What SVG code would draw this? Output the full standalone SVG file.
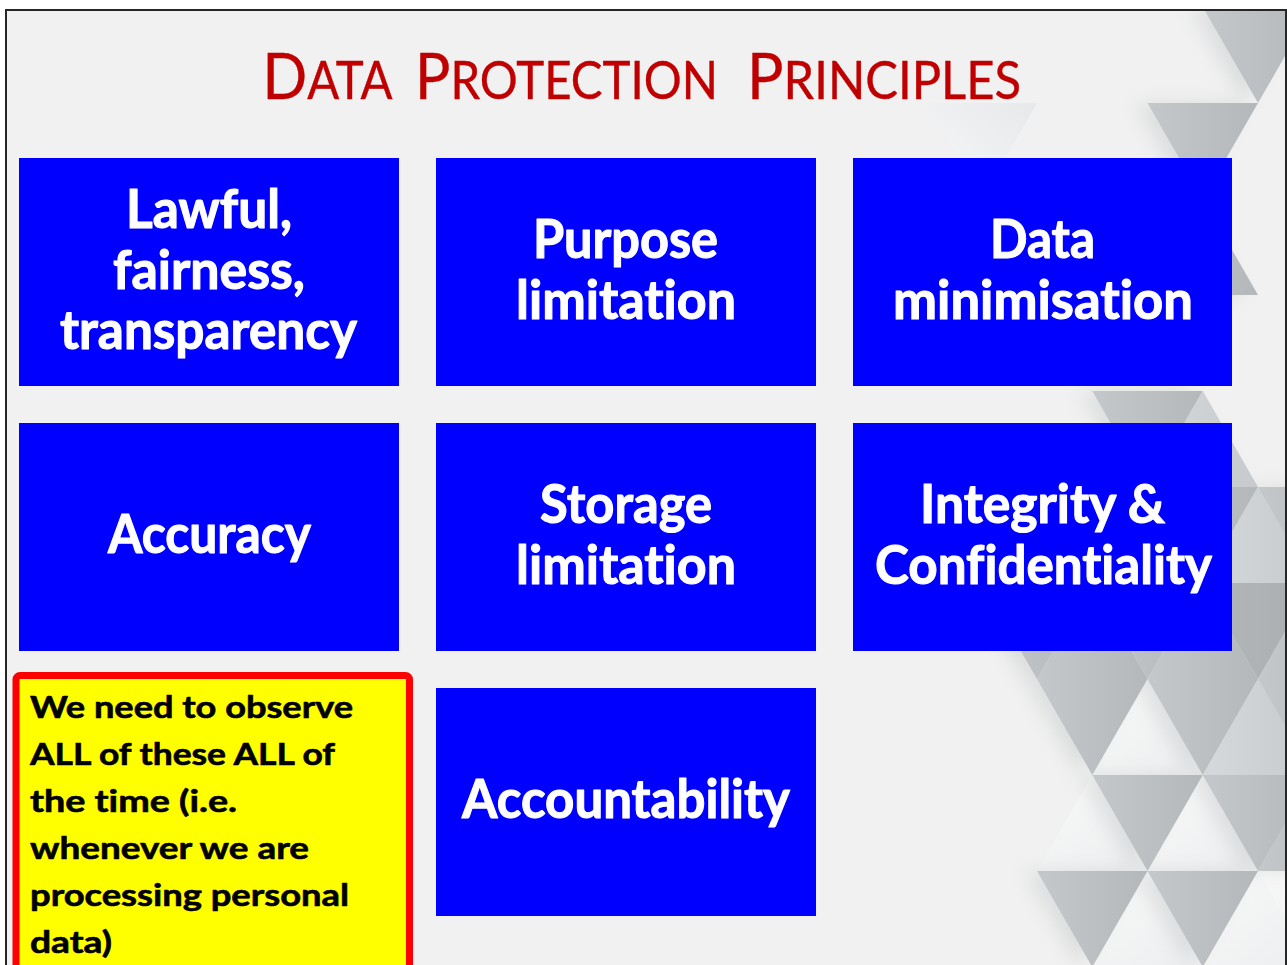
<svg xmlns="http://www.w3.org/2000/svg" xmlns:xlink="http://www.w3.org/1999/xlink" width="1287" height="965" viewBox="0 0 1287 965">
  <style>
    text { font-variant-ligatures: none; font-feature-settings: "liga" 0, "dlig" 0; }
    .frame { fill: #f1f1f1; stroke: #262626; stroke-width: 2; }
    .box { fill: #0000ff; }
    .lbl { font-family: Lato, "Open Sans", "Liberation Sans", sans-serif; font-weight: 700; font-size: 53px; fill: #ffffff; stroke: #ffffff; stroke-width: 1.1; stroke-linejoin: round; text-anchor: middle; }
    .note { font-family: Lato, "Open Sans", "Liberation Sans", sans-serif; font-weight: 700; font-size: 30px; fill: #000000; stroke: #000000; stroke-width: 0.6; stroke-linejoin: round; }
    .title { font-family: Lato, "Open Sans", "Liberation Sans", sans-serif; font-weight: 400; fill: #c00000; stroke: #c00000; stroke-width: 0.4; }
    .big { font-size: 64px; }
    .small { font-size: 51.5px; }
    .g { fill: url(#facetGrey); }
    .gm { fill: url(#facetMid); }
    .gd { fill: url(#facetDark); }
    .lt { fill: url(#facetLight); }
  </style>
  <defs>
    <linearGradient id="facetGrey" x1="0" y1="0" x2="1" y2="0">
      <stop offset="0" stop-color="#c4c8ca"/>
      <stop offset="1" stop-color="#b4b8ba"/>
    </linearGradient>
    <linearGradient id="facetMid" x1="0" y1="0" x2="1" y2="0">
      <stop offset="0" stop-color="#d6d9db"/>
      <stop offset="1" stop-color="#c6cacc"/>
    </linearGradient>
    <linearGradient id="facetDark" x1="0" y1="0" x2="1" y2="0">
      <stop offset="0" stop-color="#b3b7b9"/>
      <stop offset="1" stop-color="#aaaeb0"/>
    </linearGradient>
    <linearGradient id="facetLight" x1="0" y1="0" x2="1" y2="1">
      <stop offset="0" stop-color="#f8f8f8"/>
      <stop offset="1" stop-color="#eceeef"/>
    </linearGradient>
    <linearGradient id="facetPale" x1="1" y1="0" x2="0" y2="1">
      <stop offset="0" stop-color="#e6e8ea"/>
      <stop offset="1" stop-color="#f8f8f8"/>
    </linearGradient>
    <filter id="soft" x="-50%" y="-50%" width="200%" height="200%">
      <feGaussianBlur stdDeviation="9"/>
    </filter>
    <clipPath id="inside">
      <rect x="7" y="11" width="1278" height="954"/>
    </clipPath>
    <!-- grey facets of the background lattice (side 110.5, row height 96) -->
    <g id="greyFacets">
      <polygon class="g" points="1202.75,7 1313.25,7 1258,103"/>
      <polygon class="g" points="1147.5,103 1258,103 1202.75,199"/>
      <polygon class="g" points="1202.75,199 1258,295 1147.5,295"/>
      <polygon class="g" points="1092.25,391 1202.75,391 1147.5,487"/>
      <polygon class="gm" points="1202.75,391 1258,487 1147.5,487"/>
      <polygon class="g" points="1147.5,487 1258,487 1202.75,583"/>
      <polygon class="gm" points="1258,487 1313.25,583 1202.75,583"/>
      <polygon class="g" points="1258,487 1368.5,487 1313.25,583"/>
      <polygon class="g" points="981.75,583 1092.25,583 1037,679"/>
      <polygon class="g" points="1092.25,583 1147.5,679 1037,679"/>
      <polygon class="g" points="1092.25,583 1202.75,583 1147.5,679"/>
      <polygon class="g" points="1202.75,583 1258,679 1147.5,679"/>
      <polygon class="gd" points="1202.75,583 1313.25,583 1258,679"/>
      <polygon class="g" points="1313.25,583 1368.5,679 1258,679"/>
      <polygon class="g" points="1037,679 1147.5,679 1092.25,775"/>
      <polygon class="g" points="1147.5,679 1258,679 1202.75,775"/>
      <polygon class="gm" points="1258,679 1313.25,775 1202.75,775"/>
      <polygon class="g" points="1258,679 1368.5,679 1313.25,775"/>
      <polygon class="g" points="1092.25,775 1202.75,775 1147.5,871"/>
      <polygon class="g" points="1202.75,775 1313.25,775 1258,871"/>
      <polygon class="g" points="1313.25,775 1368.5,871 1258,871"/>
      <polygon class="g" points="1037,871 1147.5,871 1092.25,967"/>
      <polygon class="g" points="1147.5,871 1258,871 1202.75,967"/>
    </g>
  </defs>

  <!-- slide frame -->
  <rect x="0" y="0" width="1287" height="965" fill="#ffffff"/>
  <rect class="frame" x="6" y="10" width="1280" height="970"/>

  <!-- faceted background -->
  <g id="background" clip-path="url(#inside)">
    <polygon fill="url(#facetPale)" points="926.5,103 1037,103 981.75,199"/>
    <polygon class="lt" points="1147.5,679 1202.75,775 1092.25,775"/>
    <polygon class="lt" points="1092.25,775 1147.5,871 1037,871"/>
    <polygon class="lt" points="1202.75,775 1258,871 1147.5,871"/>
    <polygon class="lt" points="1147.5,871 1202.75,967 1092.25,967"/>
    <polygon class="lt" points="1258,871 1313.25,967 1202.75,967"/>
    <polygon class="lt" points="1258,871 1368.5,871 1313.25,967"/>
    <use xlink:href="#greyFacets" transform="translate(-14,0)" filter="url(#soft)" opacity="0.4"/>
    <use xlink:href="#greyFacets"/>
  </g>

  <!-- title in small capitals -->
  <g id="title">
    <text class="title" x="262.5" y="99" textLength="130" lengthAdjust="spacingAndGlyphs"><tspan class="big">D</tspan><tspan class="small">ATA</tspan></text>
    <text class="title" x="415" y="99" textLength="303" lengthAdjust="spacingAndGlyphs"><tspan class="big">P</tspan><tspan class="small">ROTECTION</tspan></text>
    <text class="title" x="747" y="99" textLength="274" lengthAdjust="spacingAndGlyphs"><tspan class="big">P</tspan><tspan class="small">RINCIPLES</tspan></text>
  </g>

  <g id="connectors"/>

  <!-- principle boxes -->
  <g id="lawful">
    <rect class="box" x="19" y="158" width="380" height="228"/>
    <text class="lbl" x="209" y="228" textLength="166" lengthAdjust="spacingAndGlyphs">Lawful,</text>
    <text class="lbl" x="209" y="289" textLength="192" lengthAdjust="spacingAndGlyphs">fairness,</text>
    <text class="lbl" x="208.5" y="349" textLength="297" lengthAdjust="spacingAndGlyphs">transparency</text>
  </g>
  <g id="purpose">
    <rect class="box" x="436" y="158" width="380" height="228"/>
    <text class="lbl" x="625.5" y="258" textLength="185" lengthAdjust="spacingAndGlyphs">Purpose</text>
    <text class="lbl" x="626" y="319" textLength="220" lengthAdjust="spacingAndGlyphs">limitation</text>
  </g>
  <g id="minimisation">
    <rect class="box" x="853" y="158" width="379" height="228"/>
    <text class="lbl" x="1042.5" y="258" textLength="105" lengthAdjust="spacingAndGlyphs">Data</text>
    <text class="lbl" x="1043" y="319" textLength="300" lengthAdjust="spacingAndGlyphs">minimisation</text>
  </g>
  <g id="accuracy">
    <rect class="box" x="19" y="423" width="380" height="228"/>
    <text class="lbl" x="209.5" y="553" textLength="203" lengthAdjust="spacingAndGlyphs">Accuracy</text>
  </g>
  <g id="storage">
    <rect class="box" x="436" y="423" width="380" height="228"/>
    <text class="lbl" x="626" y="523" textLength="172" lengthAdjust="spacingAndGlyphs">Storage</text>
    <text class="lbl" x="626" y="584" textLength="220" lengthAdjust="spacingAndGlyphs">limitation</text>
  </g>
  <g id="integrity">
    <rect class="box" x="853" y="423" width="379" height="228"/>
    <text class="lbl" x="1042.5" y="523" textLength="245" lengthAdjust="spacingAndGlyphs">Integrity &amp;</text>
    <text class="lbl" x="1043.5" y="584" textLength="337" lengthAdjust="spacingAndGlyphs">Confidentiality</text>
  </g>
  <g id="accountability">
    <rect class="box" x="436" y="688" width="380" height="228"/>
    <text class="lbl" x="626" y="818" textLength="328" lengthAdjust="spacingAndGlyphs">Accountability</text>
  </g>

  <!-- reminder note -->
  <g id="note">
    <rect x="16" y="675.5" width="393.5" height="320" rx="4" fill="#ffff00" stroke="#ff0000" stroke-width="7"/>
    <text class="note" x="30" y="718" textLength="323" lengthAdjust="spacingAndGlyphs">We need to observe</text>
    <text class="note" x="30" y="765" textLength="305" lengthAdjust="spacingAndGlyphs">ALL of these ALL of</text>
    <text class="note" x="30" y="812" textLength="207" lengthAdjust="spacingAndGlyphs">the time (i.e.</text>
    <text class="note" x="30" y="859" textLength="279" lengthAdjust="spacingAndGlyphs">whenever we are</text>
    <text class="note" x="30" y="906" textLength="319" lengthAdjust="spacingAndGlyphs">processing personal</text>
    <text class="note" x="30" y="953" textLength="82" lengthAdjust="spacingAndGlyphs">data)</text>
  </g>
</svg>
